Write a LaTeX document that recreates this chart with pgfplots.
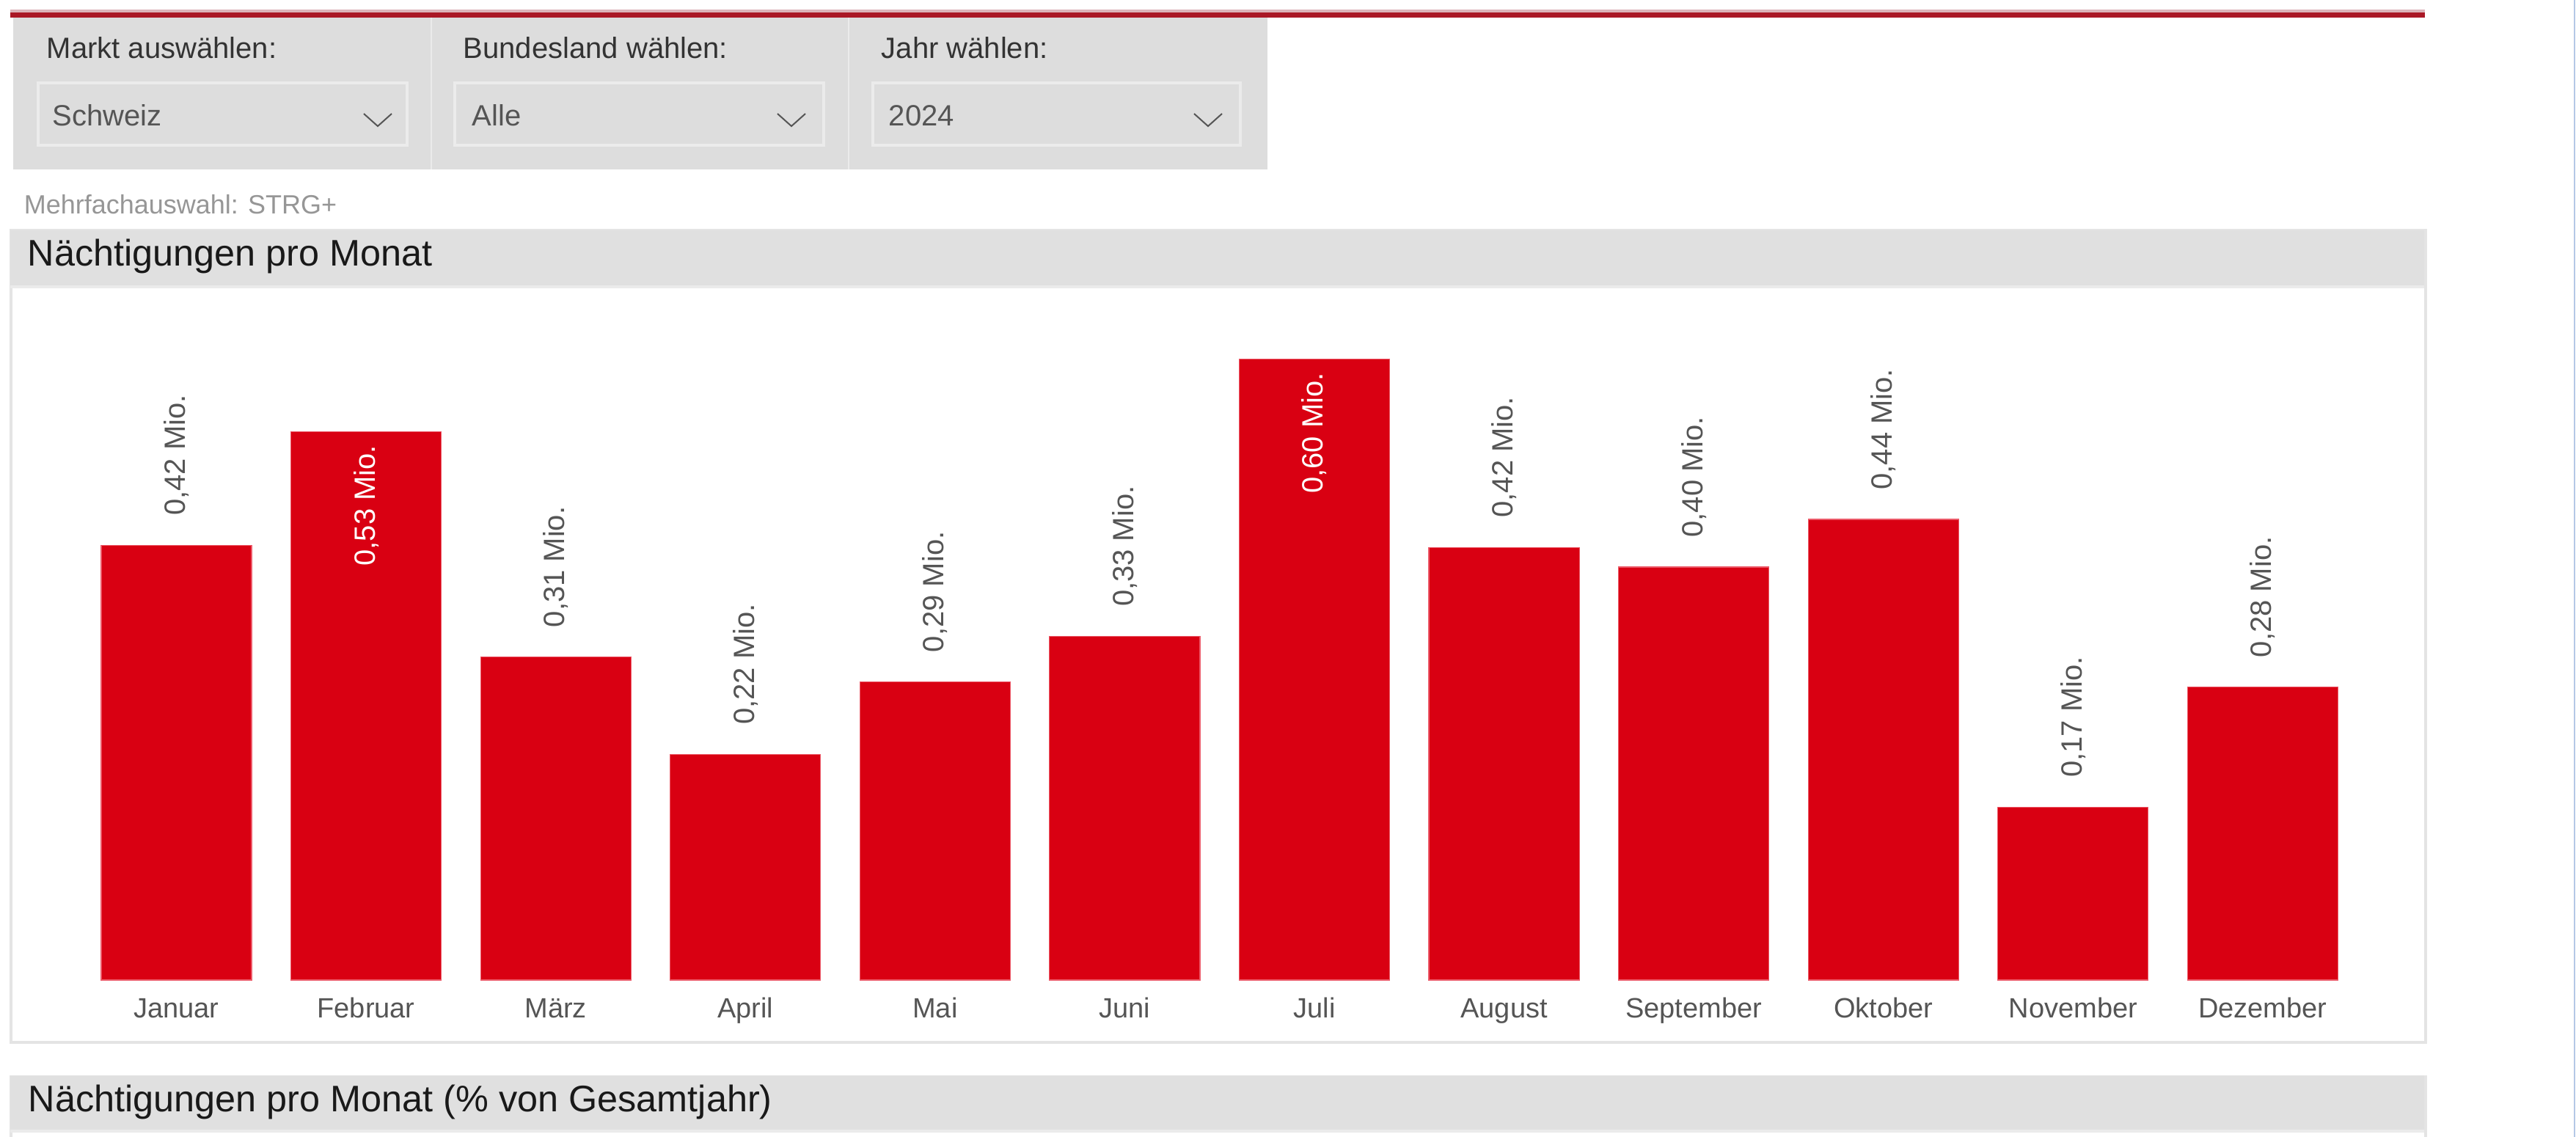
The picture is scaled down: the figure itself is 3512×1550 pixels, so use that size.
\documentclass[border=0pt]{standalone}
\usepackage{pgfplots}
\pgfplotsset{compat=1.18}
\usepackage{fontspec}
\setmainfont{Liberation Sans}
\definecolor{panelgray}{RGB}{221,221,221}
\definecolor{titlegray}{RGB}{224,224,224}
\definecolor{ddborder}{RGB}{235,235,235}
\definecolor{panelborder}{RGB}{228,228,228}
\definecolor{labeltext}{RGB}{51,51,51}
\definecolor{valuetext}{RGB}{85,85,85}
\definecolor{hinttext}{RGB}{150,150,150}
\definecolor{ticktext}{RGB}{85,85,85}
\definecolor{barred}{RGB}{217,0,18}
\definecolor{baredge}{RGB}{236,90,105}
\definecolor{pinkline}{RGB}{220,180,186}
\definecolor{darkred}{RGB}{170,24,38}
\definecolor{edgeblue}{RGB}{180,200,230}
\begin{document}
\begin{tikzpicture}[x=0.25pt,y=-0.25pt]
\useasboundingbox (0,0) rectangle (3512,1550);
\fill[white] (0,0) rectangle (3512,1550);
% top red line
\fill[pinkline] (14,13) rectangle (3306,17);
\fill[darkred] (14,17) rectangle (3306,24);
% filter panel
\fill[panelgray] (18,24) rectangle (1728,231);
\draw[ddborder, line width=0.5pt] (588,24) -- (588,231);
\draw[ddborder, line width=0.5pt] (1157,24) -- (1157,231);
\draw[ddborder, line width=1pt, fill=panelgray] (52,113) rectangle (555,198);
\draw[ddborder, line width=1pt, fill=panelgray] (620,113) rectangle (1123,198);
\draw[ddborder, line width=1pt, fill=panelgray] (1190,113) rectangle (1691,198);
\draw[valuetext, line width=0.5pt] (496,155) -- (515,172) -- (534,155);
\draw[valuetext, line width=0.5pt] (1060,155) -- (1079,172) -- (1098,155);
\draw[valuetext, line width=0.5pt] (1628,155) -- (1647,172) -- (1666,155);
\node[anchor=base west, inner sep=0pt, text=labeltext, font=\fontsize{10}{12}\selectfont] at (63,80) {Markt auswählen:};
\node[anchor=base west, inner sep=0pt, text=labeltext, font=\fontsize{10}{12}\selectfont] at (631,80) {Bundesland wählen:};
\node[anchor=base west, inner sep=0pt, text=labeltext, font=\fontsize{10}{12}\selectfont] at (1201,80) {Jahr wählen:};
\node[anchor=base west, inner sep=0pt, text=valuetext, font=\fontsize{10}{12}\selectfont] at (71,172) {Schweiz};
\node[anchor=base west, inner sep=0pt, text=valuetext, font=\fontsize{10}{12}\selectfont] at (643,172) {Alle};
\node[anchor=base west, inner sep=0pt, text=valuetext, font=\fontsize{10}{12}\selectfont] at (1211,172) {2024};
\node[anchor=base west, inner sep=0pt, text=hinttext, font=\fontsize{9}{11}\selectfont] at (32,292) {Mehrfachauswahl: STRG+};
% chart panel 1
\draw[panelborder, line width=1pt] (15,314) rectangle (3307,1421);
\fill[titlegray] (14,314) rectangle (3305,389);
\fill[ddborder] (14,389) rectangle (3305,393);
\node[anchor=base west, inner sep=0pt, text=black!90, font=\fontsize{12.6}{14}\selectfont] at (37,363) {Nächtigungen pro Monat};
% chart panel 2
\draw[panelborder, line width=1pt] (15,1466) -- (15,1560);
\draw[panelborder, line width=1pt] (3307,1466) -- (3307,1560);
\fill[titlegray] (14,1466) rectangle (3305,1540);
\fill[ddborder] (14,1540) rectangle (3305,1544);
\node[anchor=base west, inner sep=0pt, text=black!90, font=\fontsize{12.6}{14}\selectfont] at (38,1515) {Nächtigungen pro Monat (\% von Gesamtjahr)};
% right edge line
\draw[edgeblue, line width=0.6pt] (3510,0) -- (3510,1550);
\begin{axis}[
  at={(27.8pt,-334pt)}, anchor=south west,
  scale only axis, width=775.75pt, height=229.3pt,
  xmin=-0.5, xmax=11.5, ymin=0, ymax=0.65,
  enlargelimits=false, clip=false,
  axis line style={draw=none},
  ytick=\empty,
  xtick={0,1,2,3,4,5,6,7,8,9,10,11},
  xticklabels={Januar,Februar,März,April,Mai,Juni,Juli,August,September,Oktober,November,Dezember},
  major tick length=0pt,
  xticklabel style={font=\fontsize{9.5}{11}\selectfont, text=ticktext, inner sep=0pt, anchor=north, text height=6.8pt, yshift=-5.85pt},
]
\addplot[ybar, bar shift=0pt, bar width=0.793, fill=barred, draw=baredge, line width=0.3pt,
  nodes near coords, point meta=explicit symbolic,
  every node near coord/.append style={rotate=90, anchor=west, inner xsep=10pt, inner ysep=0pt, text=valuetext, font=\fontsize{10}{12}\selectfont}]
  coordinates {
  (0,0.420) [0,42 Mio.]
  (1,0.530) []
  (2,0.312) [0,31 Mio.]
  (3,0.218) [0,22 Mio.]
  (4,0.288) [0,29 Mio.]
  (5,0.332) [0,33 Mio.]
  (6,0.600) []
  (7,0.418) [0,42 Mio.]
  (8,0.399) [0,40 Mio.]
  (9,0.445) [0,44 Mio.]
  (10,0.167) [0,17 Mio.]
  (11,0.283) [0,28 Mio.]
  };
\addplot[ybar, bar shift=0pt, bar width=0.793, fill=none, draw=none,
  nodes near coords, point meta=explicit symbolic,
  every node near coord/.append style={rotate=90, anchor=east, inner xsep=4.5pt, inner ysep=0pt, text=white, font=\fontsize{10}{12}\selectfont}]
  coordinates {
  (1,0.530) [0,53 Mio.]
  (6,0.600) [0,60 Mio.]
  };
\end{axis}
\end{tikzpicture}
\end{document}
